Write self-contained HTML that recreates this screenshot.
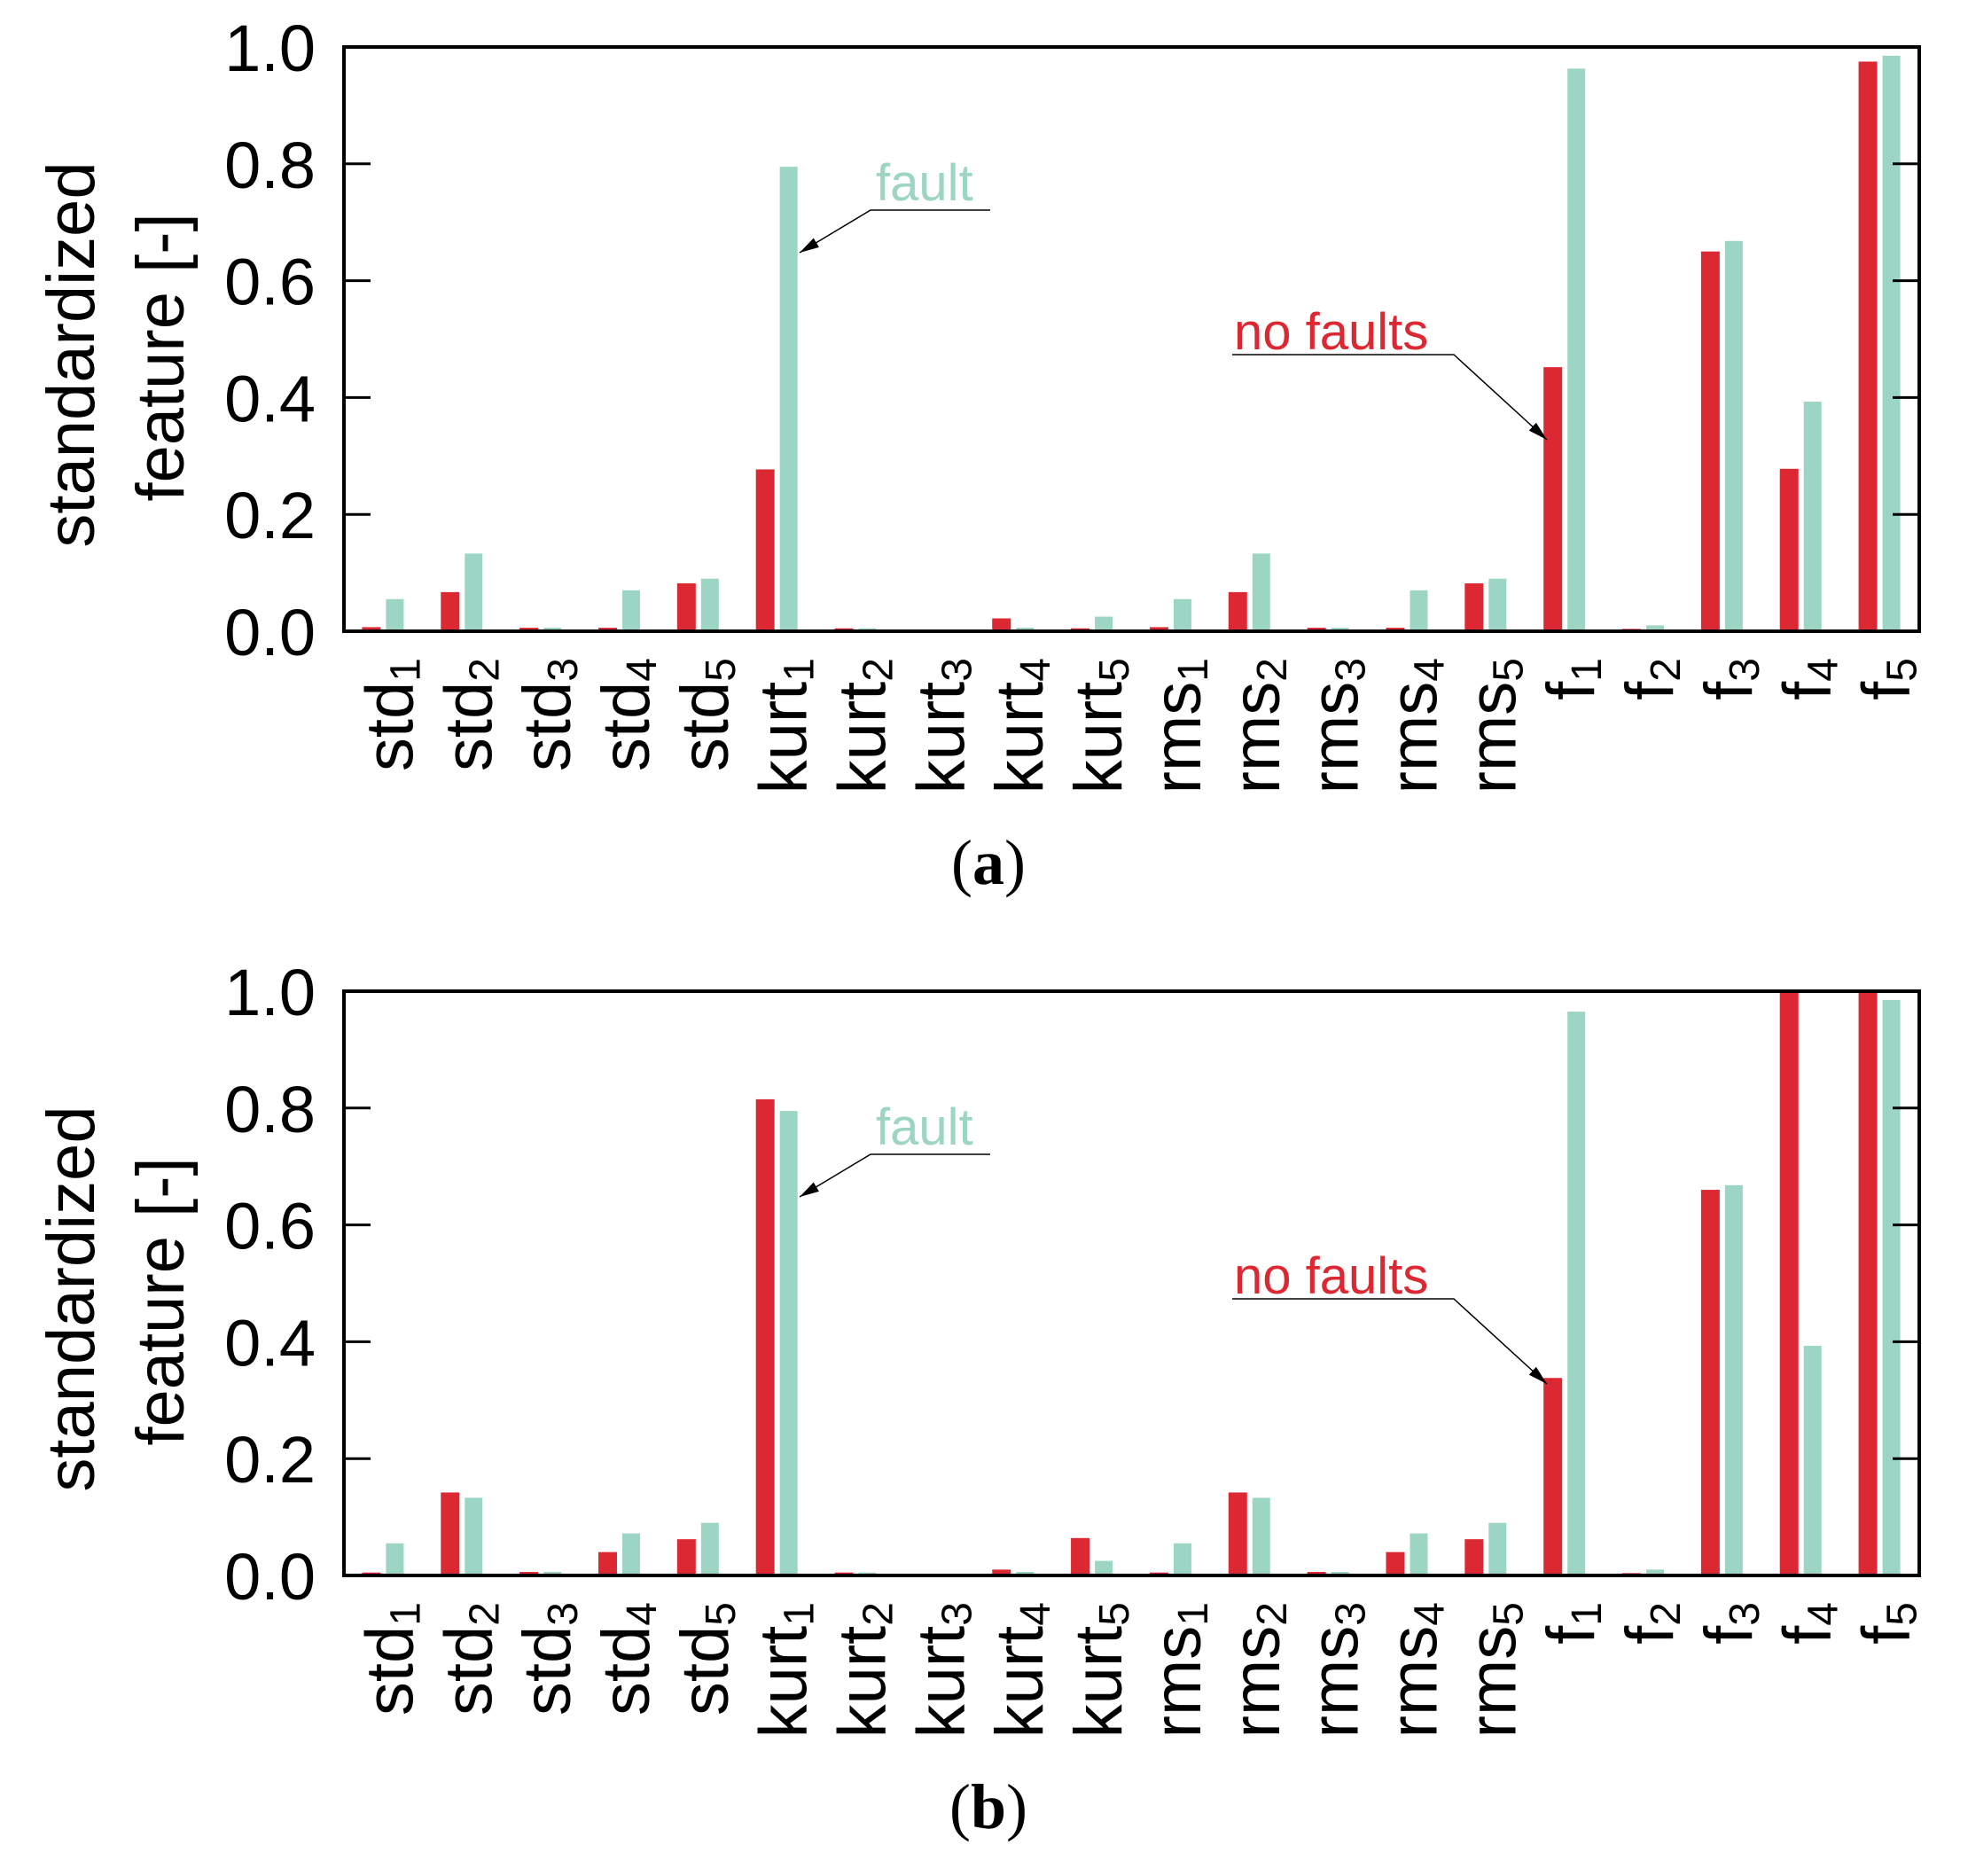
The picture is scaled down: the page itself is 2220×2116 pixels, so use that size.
<!DOCTYPE html>
<html><head><meta charset="utf-8"><style>
html,body{margin:0;padding:0;background:#fff;}
svg{display:block;font-family:"Liberation Sans",sans-serif;}
</style></head><body>
<svg id="fig" width="2220" height="2116" viewBox="0 0 2220 2116" xmlns="http://www.w3.org/2000/svg"></svg>
<script>
const categories = ["std","std","std","std","std","kurt","kurt","kurt","kurt","kurt","rms","rms","rms","rms","rms","f","f","f","f","f"];
const subscripts = ["1","2","3","4","5","1","2","3","4","5","1","2","3","4","5","1","2","3","4","5"];
const yTicks = [0,0.2,0.4,0.6,0.8,1.0];
const yTickLabels = ["0.0","0.2","0.4","0.6","0.8","1.0"];
const noFaultsA = [0.007,0.067,0.006,0.006,0.082,0.277,0.005,0.003,0.022,0.005,0.007,0.067,0.006,0.006,0.082,0.452,0.004,0.65,0.278,0.975];
const faultA    = [0.055,0.133,0.006,0.07,0.09,0.795,0.005,0.003,0.006,0.025,0.055,0.133,0.006,0.07,0.09,0.963,0.01,0.668,0.393,0.985];
const noFaultsB = [0.005,0.142,0.006,0.04,0.062,0.815,0.005,0.003,0.01,0.064,0.005,0.142,0.006,0.04,0.062,0.338,0.004,0.66,1.0,1.0];
const faultB    = [0.055,0.133,0.006,0.072,0.09,0.795,0.005,0.003,0.006,0.025,0.055,0.133,0.006,0.072,0.09,0.965,0.01,0.668,0.393,0.985];

const NS="http://www.w3.org/2000/svg";
const svg=document.getElementById('fig');
const RED="#dc2832", TEAL="#9dd5c4";
const L=388,R=2165,H=659;
function mk(tag,attrs,parent){const e=document.createElementNS(NS,tag);for(const k in attrs)e.setAttribute(k,attrs[k]);(parent||svg).appendChild(e);return e;}

const defs=mk('defs',{});
const mrk=mk('marker',{id:'arr',markerWidth:'22',markerHeight:'12',refX:'22',refY:'6',orient:'auto',markerUnits:'userSpaceOnUse'},defs);
mrk.innerHTML='<path d="M0,0 L22,6 L0,12 z" fill="#000"/>';

function panel(top,red,teal,label,id){
  const g=mk('g',{});
  
  
  const bottom=top+H;
  const y=v=>bottom-v*H;
  const gw=(R-L)/categories.length;
  const cx=i=>L+gw*(i+0.5);
  for(let i=0;i<categories.length;i++){
    const r=mk('rect',{x:cx(i)-24,y:y(red[i]),width:21,height:bottom-y(red[i]),fill:RED},g);
    
    
    const t=mk('rect',{x:cx(i)+3,y:y(teal[i]),width:20,height:bottom-y(teal[i]),fill:TEAL},g);
    
    
    const tx=cx(i)+33, ty=bottom+30;
    const lab=mk('text',{x:0,y:0,transform:`translate(${tx},${ty}) rotate(-90)`,'text-anchor':'end','font-size':'76',fill:'#000'},g);
    
    
    lab.appendChild(document.createTextNode(categories[i]));
    const s=mk('tspan',{'font-size':'48',dy:'8'},lab);
    s.textContent=subscripts[i];
  }
  const fr=mk('rect',{x:L,y:top,width:R-L,height:H,fill:'none',stroke:'#000','stroke-width':'4'},g);
  
  
  for(let k=0;k<yTicks.length;k++){
    const yy=y(yTicks[k]);
    mk('line',{x1:L,x2:L+30,y1:yy,y2:yy,stroke:'#000','stroke-width':'3'},g);
    mk('line',{x1:R-30,x2:R,y1:yy,y2:yy,stroke:'#000','stroke-width':'3'},g);
    const tl=mk('text',{x:356,y:yy+27,'text-anchor':'end','font-size':'74',fill:'#000'},g);
    
    
    tl.textContent=yTickLabels[k];
  }
  const t1=mk('text',{transform:`translate(106,${top+347}) rotate(-90)`,'text-anchor':'middle','font-size':'76',fill:'#000'},g);
  
  
  t1.textContent='standardized';
  const t2=mk('text',{transform:`translate(207,${top+350}) rotate(-90)`,'text-anchor':'middle','font-size':'76',fill:'#000'},g);
  
  
  t2.textContent='feature [-]';
  const fa=mk('text',{x:988,y:top+173,'font-size':'58',fill:TEAL},g);
  
  
  fa.textContent='fault';
  mk('polyline',{points:`1117,${top+184} 982,${top+184} 902,${top+232}`,fill:'none',stroke:'#000','stroke-width':'1.5','marker-end':'url(#arr)'},g);
  const nf=mk('text',{x:1392,y:top+341,'font-size':'58',fill:RED},g);
  
  
  nf.textContent='no faults';
  mk('polyline',{points:`1390,${top+347} 1640,${top+347} 1745,${top+443}`,fill:'none',stroke:'#000','stroke-width':'1.5','marker-end':'url(#arr)'},g);
  const c=mk('text',{x:1115,y:bottom+285,'text-anchor':'middle','font-size':'72','font-family':'"Liberation Serif",serif',fill:'#000'},g);
  
  
  c.appendChild(document.createTextNode('('));
  const b=mk('tspan',{'font-weight':'bold'},c);b.textContent=label;
  c.appendChild(document.createTextNode(')'));
}
panel(53,noFaultsA,faultA,'a','a');
panel(1118,noFaultsB,faultB,'b','b');
</script>
</body></html>
